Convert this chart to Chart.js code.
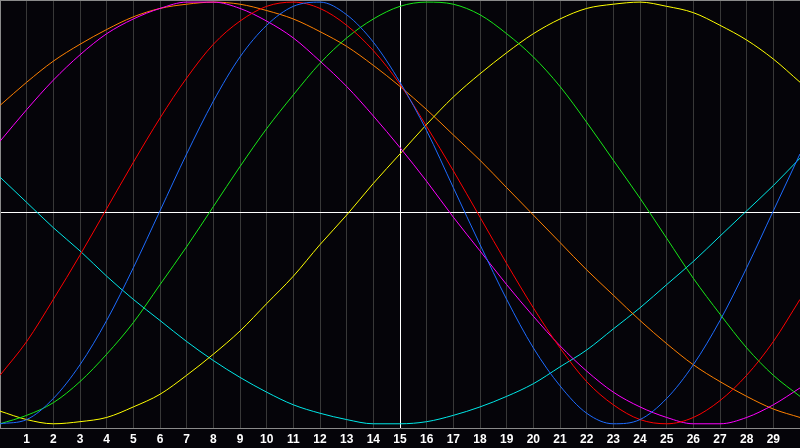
<!DOCTYPE html>
<html>
<head>
<meta charset="utf-8">
<script src="https://cdn.jsdelivr.net/npm/chart.js@4/dist/chart.umd.min.js"></script>
<style>
  html, body { margin: 0; padding: 0; background: #050409; }
  canvas { display: block; }
</style>
</head>
<body>
<canvas id="myChart" width="800" height="448"></canvas>
<script>
const days = [0, 1, 2, 3, 4, 5, 6, 7, 8, 9, 10, 11, 12, 13, 14, 15,
  16, 17, 18, 19, 20, 21, 22, 23, 24, 25, 26, 27, 28, 29, 30];

const physical = [-100, -98, -88, -72, -51, -26, 1, 28, 53, 74, 89, 98, 100, 94, 81, 62,
  39, 12, -15, -41, -64, -82, -95, -100, -98, -88, -72, -51, -26, 1, 28];
const emotional = [-77, -61, -41, -20, 2, 24, 45, 64, 80, 91, 98, 100, 97, 89, 77, 61,
  41, 20, -2, -24, -45, -64, -80, -91, -98, -100, -97, -89, -77, -61, -41];
const intellectual = [-100, -96, -90, -80, -67, -52, -34, -16, 3, 22, 40, 56, 71, 83, 92, 98,
  100, 99, 94, 85, 74, 60, 43, 25, 7, -12, -31, -48, -64, -77, -87];
const intuitive = [34, 49, 63, 75, 85, 92, 97, 100, 100, 97, 91, 83, 72, 60, 46, 31,
  15, -2, -18, -34, -49, -63, -75, -85, -92, -97, -100, -100, -97, -91, -83];
const aesthetic = [-94, -98, -100, -99, -97, -92, -86, -77, -67, -56, -43, -30, -15, -1, 14, 28,
  42, 55, 66, 76, 85, 92, 97, 99, 100, 98, 95, 89, 82, 73, 62];
const awareness = [51, 62, 72, 80, 87, 93, 97, 99, 100, 99, 96, 92, 86, 79, 70, 60,
  49, 37, 25, 12, -1, -14, -27, -39, -51, -62, -72, -80, -87, -93, -97];
const spiritual = [17, 5, -7, -18, -30, -41, -51, -61, -70, -78, -85, -91, -95, -98, -100, -100,
  -99, -96, -92, -87, -81, -73, -65, -55, -45, -34, -23, -11, 1, 13, 26];

const today = 15;

const series = [
  { label: "Physical", data: physical, color: "#1e6cff" },
  { label: "Emotional", data: emotional, color: "#ff0000" },
  { label: "Intellectual", data: intellectual, color: "#18e818" },
  { label: "Intuitive", data: intuitive, color: "#ff00ff" },
  { label: "Aesthetic", data: aesthetic, color: "#ffff00" },
  { label: "Awareness", data: awareness, color: "#ff8000" },
  { label: "Spiritual", data: spiritual, color: "#00e8e8" },
];

const gridGrey = "#383838";
const borderGrey = "#8a8a8a";

const ctx = document.getElementById("myChart").getContext("2d");
const myChart = new Chart(ctx, {
  type: "line",
  data: {
    datasets: series.map((s) => ({
      label: s.label,
      data: s.data.map((v, i) => ({ x: days[i], y: v })),
      borderColor: s.color,
      borderWidth: 1,
      pointRadius: 0,
      cubicInterpolationMode: "monotone",
      fill: false,
    })),
  },
  options: {
    responsive: false,
    animation: false,
    layout: { padding: 0 },
    plugins: { legend: { display: false }, tooltip: { enabled: false } },
    scales: {
      x: {
        type: "linear",
        min: days[0],
        max: days[days.length - 1],
        afterBuildTicks: (scale) => {
          scale.ticks = days.map((d) => ({ value: d }));
        },
        afterFit: (scale) => {
          scale.height = 20;
          scale.paddingLeft = 0;
          scale.paddingRight = 0;
        },
        grid: {
          drawTicks: false,
          color: (c) => {
            if (c.tick.value === today) return "#ffffff";
            if (c.tick.value === days[0]) return borderGrey;
            if (c.tick.value === days[days.length - 1]) return "rgba(0,0,0,0)";
            return gridGrey;
          },
        },
        border: { color: borderGrey },
        ticks: {
          autoSkip: false,
          maxRotation: 0,
          padding: 4,
          color: "#ffffff",
          font: { family: "Liberation Sans", size: 12, weight: "bold" },
          callback: (v) => (v === days[0] || v === days[days.length - 1] ? "" : v),
        },
      },
      y: {
        min: -102,
        max: 101,
        afterBuildTicks: (scale) => {
          scale.ticks = [{ value: -102 }, { value: 0 }, { value: 101 }];
        },
        afterFit: (scale) => {
          scale.width = 0;
          scale.paddingTop = 0;
          scale.paddingBottom = 0;
        },
        grid: {
          drawTicks: false,
          color: (c) => {
            if (c.tick.value === 0) return "#ffffff";
            if (c.tick.value === 101) return borderGrey;
            return "rgba(0,0,0,0)";
          },
        },
        border: { color: borderGrey },
        ticks: { display: false },
      },
    },
  },
});
</script>
</body>
</html>
